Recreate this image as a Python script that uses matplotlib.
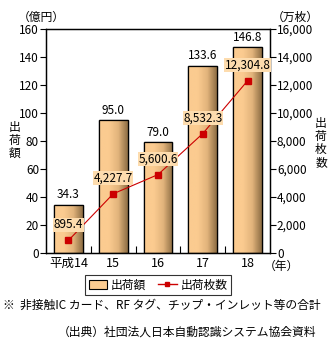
import matplotlib
matplotlib.use("Agg")
import matplotlib.pyplot as plt
import numpy as np
from matplotlib.colors import LinearSegmentedColormap
from matplotlib.lines import Line2D
from matplotlib.patches import Patch

plt.rcParams['font.family'] = ['Noto Sans CJK JP', 'DejaVu Sans']

years = ["平成14", "15", "16", "17", "18"]
amount = [34.3, 95.0, 79.0, 133.6, 146.8]          # 出荷額 (億円)
sheets = [895.4, 4227.7, 5600.6, 8532.3, 12304.8]  # 出荷枚数 (万枚)

bar_color = "#FBCB90"
line_color = "#CC0000"
fs = 8.5

fig = plt.figure(figsize=(3.33, 3.5), dpi=100)
ax = fig.add_axes([46/333, 1-253/350, 224/333, 224/350])
ax2 = ax.twinx()

x = np.arange(len(years))
w = 0.64
bars = ax.bar(x, amount, width=w, color=bar_color, edgecolor="black", linewidth=0.9, zorder=2)

# darker shading along the right side of each bar
shade = LinearSegmentedColormap.from_list("shade", [bar_color, bar_color, "#E2B47C", "#8E6E44"])
grad = np.linspace(0, 1, 64).reshape(1, -1)
for b in bars:
    x0, y0 = b.get_x(), b.get_y()
    im = ax.imshow(grad, cmap=shade, aspect="auto", zorder=2.5,
                   extent=[x0, x0 + b.get_width(), y0, y0 + b.get_height()])
    im.set_clip_path(b)
    ax.add_patch(plt.Rectangle((x0, y0), b.get_width(), b.get_height(),
                               fill=False, edgecolor="black", linewidth=0.9, zorder=3))

for xi, v in zip(x, amount):
    ax.text(xi, v + 2.5, f"{v:.1f}", ha="center", va="bottom", fontsize=fs, zorder=5)

ax.set_xlim(-0.5, len(years) - 0.5)
ax.set_ylim(0, 160)
ax.set_yticks(np.arange(0, 161, 20))
ax.set_xticks(np.arange(0.5, len(years) - 1, 1.0))
ax.set_xticklabels([])
ax.set_xticks(x, minor=True)
ax.set_xticklabels(years, minor=True)
ax.tick_params(axis="x", which="major", direction="in", length=5, width=0.8)
ax.tick_params(axis="x", which="minor", length=0, labelsize=fs + 0.5, pad=3)
ax.tick_params(axis="y", direction="out", length=4, width=0.8, labelsize=fs, pad=1)

ax2.plot(x, sheets, color=line_color, linewidth=0.8, marker="s", markersize=4, zorder=6)
ax2.set_ylim(0, 16000)
ax2.set_yticks(np.arange(0, 16001, 2000))
ax2.set_yticklabels([f"{v:,}" for v in range(0, 16001, 2000)])
ax2.tick_params(axis="y", direction="out", length=4, width=0.8, labelsize=fs, pad=1)
for xi, v in zip(x, sheets):
    ax2.text(xi, v + 650, f"{v:,.1f}", ha="center", va="bottom", fontsize=fs, zorder=7,
             bbox=dict(boxstyle="square,pad=0.05", facecolor="#FDDCAE", edgecolor="none"))

for a in (ax, ax2):
    for s in a.spines.values():
        s.set_linewidth(0.9)

fig.text(18/333, 1-17/350, "（億円）", fontsize=fs, ha="left", va="center")
fig.text(272/333, 1-17/350, "（万枚）", fontsize=fs, ha="left", va="center")
fig.text(15/333, 1-140/350, "出\n荷\n額", fontsize=fs, ha="center", va="center", linespacing=1.0)
fig.text(321/333, 1-143/350, "出\n荷\n枚\n数", fontsize=fs, ha="center", va="center", linespacing=1.0)
fig.text(264/333, 1-266/350, "（年）", fontsize=fs, ha="left", va="center")

handles = [Patch(facecolor=bar_color, edgecolor="black", linewidth=0.8),
           Line2D([0], [0], color=line_color, linewidth=1, marker="s", markersize=3.5)]
leg = fig.legend(handles, ["出荷額", "出荷枚数"], loc="center", ncol=2,
                 bbox_to_anchor=(158/333, 1-285/350), fontsize=fs, frameon=True,
                 fancybox=False, edgecolor="black", handlelength=1.6, handletextpad=0.3,
                 columnspacing=1.0, borderpad=0.3, handleheight=0.9)
leg.get_frame().set_linewidth(0.8)

fig.text(3/333, 1-305/350, "※  非接触IC カード、RF タグ、チップ・インレット等の合計",
         fontsize=fs, ha="left", va="center")
fig.text(316/333, 1-332/350, "（出典）社団法人日本自動認識システム協会資料",
         fontsize=fs, ha="right", va="center")

fig.savefig("out.png", dpi=100)
